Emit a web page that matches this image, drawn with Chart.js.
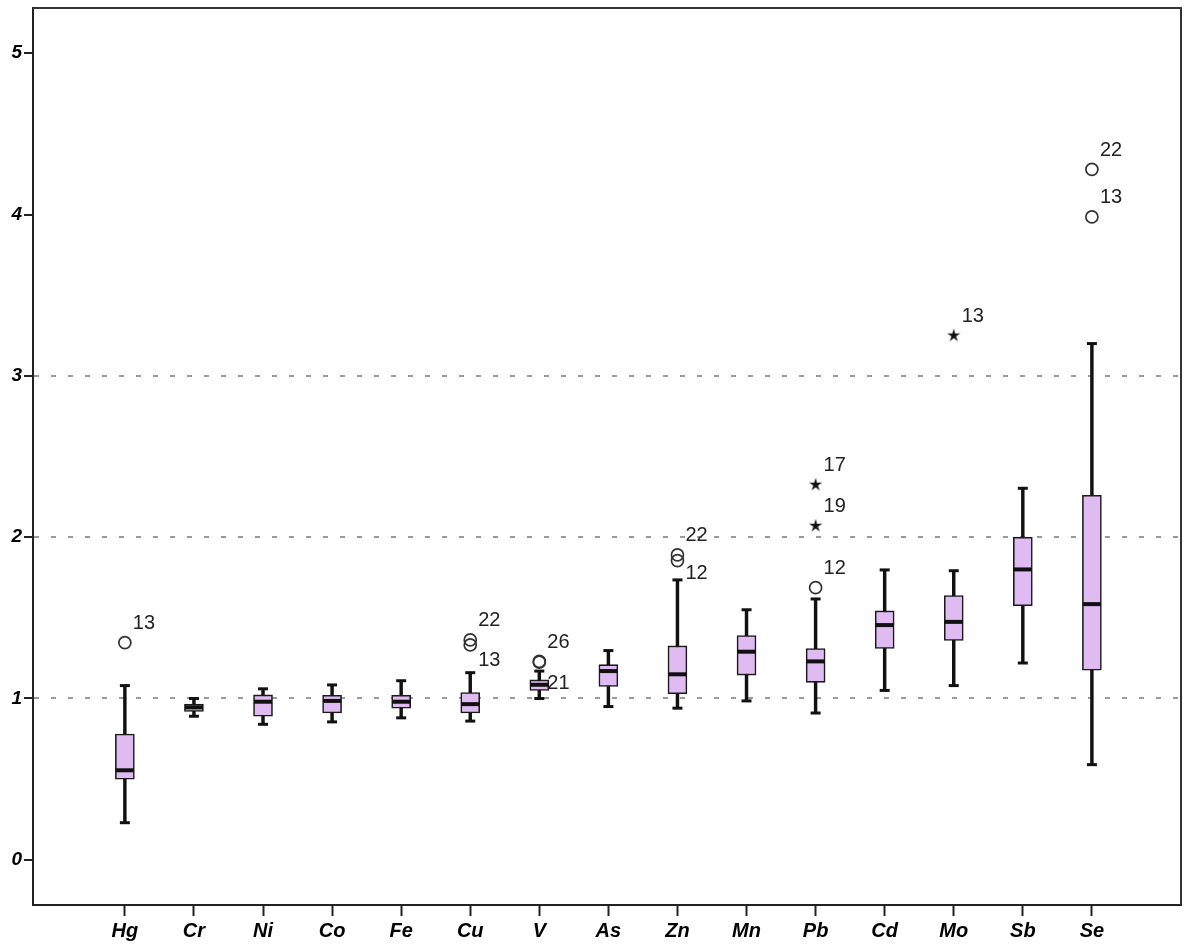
<!DOCTYPE html>
<html><head><meta charset="utf-8">
<script src="https://cdn.jsdelivr.net/npm/chart.js@4.4.0/dist/chart.umd.min.js"></script>
<style>html,body{margin:0;padding:0;background:#fff}#c{display:block}</style>
</head><body>
<canvas id="c" width="1184" height="945" style="width:1184px;height:945px"></canvas>
<script>
// ---- data ----
const categories  = ['Hg','Cr','Ni','Co','Fe','Cu','V','As','Zn','Mn','Pb','Cd','Mo','Sb','Se'];
const whiskerLow  = [0.23, 0.89, 0.84, 0.855, 0.88, 0.86, 1.00, 0.95, 0.94, 0.985, 0.91, 1.05, 1.08, 1.22, 0.59];
const q1          = [0.50, 0.92, 0.89, 0.91, 0.94, 0.91, 1.05, 1.075, 1.03, 1.145, 1.10, 1.31, 1.36, 1.575, 1.175];
const medians     = [0.555, 0.945, 0.98, 0.985, 0.98, 0.965, 1.085, 1.17, 1.15, 1.29, 1.23, 1.455, 1.475, 1.80, 1.585];
const q3          = [0.78, 0.965, 1.022, 1.02, 1.02, 1.037, 1.115, 1.21, 1.326, 1.39, 1.31, 1.543, 1.638, 2.0, 2.26];
const whiskerHigh = [1.08, 1.0, 1.06, 1.084, 1.11, 1.16, 1.17, 1.297, 1.735, 1.55, 1.617, 1.797, 1.792, 2.303, 3.2];

const outlierCategory = ['Hg','Cu','Cu','V','V','Zn','Zn','Pb','Se','Se'];
const outlierValue    = [1.346, 1.363, 1.332, 1.23, 1.225, 1.89, 1.855, 1.687, 4.28, 3.985];
const outlierId       = ['13','22','13','26','21','22','12','12','22','13'];

const extremeCategory = ['Pb','Pb','Mo'];
const extremeValue    = [2.325, 2.07, 3.25];
const extremeId       = ['17','19','13'];

const yTicks = [0, 1, 2, 3, 4, 5];
const referenceLines = [1, 2, 3];

// ---- style ----
const labelBelowOffset = {'Cu-13': 16, 'Zn-12': 13, 'V-21': 21};
const boxFill = '#dfbbf2';
const ink = '#111';

const xi = c => categories.indexOf(c);

// star marker glyph
const star = document.createElement('canvas');
star.width = 16; star.height = 16;
(function(){
  const g = star.getContext('2d');
  g.fillStyle = '#111';
  g.beginPath();
  for (let k = 0; k < 10; k++) {
    const r = k % 2 === 0 ? 7 : 2.4;
    const a = -Math.PI / 2 + k * Math.PI / 5;
    const px = 8 + r * Math.cos(a), py = 8 + r * Math.sin(a);
    k === 0 ? g.moveTo(px, py) : g.lineTo(px, py);
  }
  g.closePath(); g.fill();
})();

const labelPlugin = {
  id: 'outlierLabels',
  afterDatasetsDraw(chart) {
    const ctx = chart.ctx;
    ctx.save();
    ctx.font = '20px "Liberation Sans", Arial, sans-serif';
    ctx.fillStyle = '#222';
    ctx.textAlign = 'left';
    ctx.textBaseline = 'middle';
    chart.data.datasets.forEach((ds, di) => {
      if (!ds.pointIds) return;
      const meta = chart.getDatasetMeta(di);
      meta.data.forEach((pt, j) => {
        const key = ds.pointCats[j] + '-' + ds.pointIds[j];
        const dy = labelBelowOffset[key] !== undefined ? labelBelowOffset[key] : -19;
        ctx.fillText(ds.pointIds[j], pt.x + 8, pt.y + dy);
      });
    });
    ctx.restore();
  }
};

const framePlugin = {
  id: 'frame',
  afterDraw(chart) {
    const {ctx, chartArea: a} = chart;
    ctx.save();
    ctx.strokeStyle = '#333';
    ctx.lineWidth = 2;
    ctx.beginPath();
    ctx.moveTo(a.left, a.top);
    ctx.lineTo(a.right, a.top);
    ctx.lineTo(a.right, a.bottom);
    ctx.stroke();
    ctx.restore();
  }
};

const tickFont = {family: '"Liberation Sans", Arial, sans-serif', style: 'italic', weight: 'bold'};

new Chart(document.getElementById('c'), {
  type: 'bar',
  data: {
    datasets: [
      {
        label: 'whiskers', type: 'bar', order: 5, grouped: false,
        data: categories.map((c, i) => ({x: i, y: [whiskerLow[i], whiskerHigh[i]]})),
        backgroundColor: ink, borderWidth: 0, barThickness: 2.8
      },
      {
        label: 'boxes', type: 'bar', order: 4, grouped: false,
        data: categories.map((c, i) => ({x: i, y: [q1[i], q3[i]]})),
        backgroundColor: boxFill, borderColor: '#1a1a1a', borderWidth: 1.6,
        borderSkipped: false, barThickness: 19
      },
      {
        label: 'caps', type: 'scatter', order: 3, showLine: false,
        data: categories.map((c, i) => ({x: i, y: whiskerLow[i]}))
          .concat(categories.map((c, i) => ({x: i, y: whiskerHigh[i]}))),
        pointStyle: 'line', pointRadius: 5, pointHoverRadius: 5,
        pointBorderWidth: 3, pointBorderColor: ink
      },
      {
        label: 'medians', type: 'scatter', order: 2, showLine: false,
        data: categories.map((c, i) => ({x: i, y: medians[i]})),
        pointStyle: 'line', pointRadius: 9, pointHoverRadius: 9,
        pointBorderWidth: 4, pointBorderColor: ink
      },
      {
        label: 'outliers', type: 'scatter', order: 1, showLine: false,
        data: outlierValue.map((v, j) => ({x: xi(outlierCategory[j]), y: v})),
        pointIds: outlierId, pointCats: outlierCategory,
        pointStyle: 'circle', pointRadius: 6, pointHoverRadius: 6,
        pointBorderWidth: 1.7, pointBorderColor: '#333', pointBackgroundColor: 'rgba(255,255,255,0)'
      },
      {
        label: 'extremes', type: 'scatter', order: 1, showLine: false,
        data: extremeValue.map((v, j) => ({x: xi(extremeCategory[j]), y: v})),
        pointIds: extremeId, pointCats: extremeCategory,
        pointStyle: star, pointRadius: 6
      }
    ]
  },
  options: {
    responsive: false,
    animation: false,
    events: [],
    layout: {autoPadding: false, padding: {top: 8, right: 3, left: 0, bottom: 0}},
    plugins: {legend: {display: false}, tooltip: {enabled: false}},
    scales: {
      x: {
        type: 'linear', min: -1.33, max: 15.29, offset: false,
        afterBuildTicks: s => { s.ticks = categories.map((c, i) => ({value: i})); },
        afterFit: s => { s.height = 40; s.paddingLeft = 0; s.paddingRight = 0; },
        ticks: {
          autoSkip: false, maxRotation: 0, padding: 3, color: '#000',
          font: Object.assign({size: 20}, tickFont),
          callback: v => categories[v]
        },
        grid: {offset: false, drawOnChartArea: false, drawTicks: true, tickLength: 11,
               color: '#222', tickColor: '#222', tickWidth: 2},
        border: {display: true, color: '#222', width: 2}
      },
      y: {
        type: 'linear', min: -0.28, max: 5.28,
        afterBuildTicks: s => { s.ticks = yTicks.map(v => ({value: v})); },
        afterFit: s => { s.width = 33; s.paddingTop = 0; s.paddingBottom = 0; },
        ticks: {padding: 2, color: '#000', font: Object.assign({size: 19}, tickFont),
                callback: v => String(v)},
        grid: {
          drawTicks: true, tickLength: 9, tickColor: '#222', tickWidth: 2, lineWidth: 2,
          color: c => referenceLines.includes(c.tick && c.tick.value) ? '#999999' : 'rgba(0,0,0,0)'
        },
        border: {display: true, color: '#222', width: 2, dash: [5, 12]}
      }
    }
  },
  plugins: [labelPlugin, framePlugin]
});
</script>
</body></html>
